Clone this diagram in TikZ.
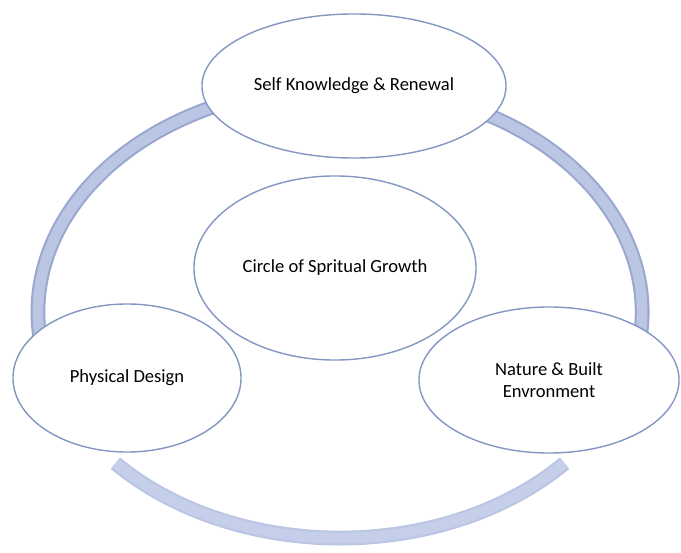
\documentclass[tikz,border=0pt]{standalone}
\usepackage{fontspec}
\setmainfont{Carlito}
\usetikzlibrary{shapes.geometric}
\definecolor{ringedge}{HTML}{9AA8CF}
\definecolor{ringfill}{HTML}{BAC6E4}
\definecolor{ringlow}{HTML}{C6CFEA}
\definecolor{ovaledge}{HTML}{8497C2}
\tikzset{
  oval/.style={ellipse,draw=ovaledge,line width=1pt,fill=white,inner sep=0pt,
    align=center,font=\fontsize{13.2}{16}\selectfont},
  ringouter/.style={draw=ringedge,line width=10.5pt,line cap=butt},
  ringinner/.style={draw=ringfill,line width=7.5pt,line cap=butt},
  ringshadow/.style={draw=black!15,line width=10pt,line cap=butt}
}
\begin{document}
\begin{tikzpicture}[x=0.025cm,y=0.025cm]
\useasboundingbox (0,0) rectangle (681,552);
\coordinate (ringc) at (340,240);
\draw[ringouter] (ringc) ++(-20:7.55cm and 5.65cm) arc[start angle=-20,end angle=200,x radius=7.55cm,y radius=5.65cm];
\draw[ringinner] (ringc) ++(-20:7.55cm and 5.65cm) arc[start angle=-20,end angle=200,x radius=7.55cm,y radius=5.65cm];
\draw[ringshadow,xshift=2,yshift=-4] (ringc) ++(222:7.55cm and 5.65cm) arc[start angle=222,end angle=318,x radius=7.55cm,y radius=5.65cm];
\draw[ringouter,draw=ringfill] (ringc) ++(222:7.55cm and 5.65cm) arc[start angle=222,end angle=318,x radius=7.55cm,y radius=5.65cm];
\draw[ringinner,draw=ringlow] (ringc) ++(222:7.55cm and 5.65cm) arc[start angle=222,end angle=318,x radius=7.55cm,y radius=5.65cm];
\node[oval,minimum width=7.6cm,minimum height=3.6cm] (renewal) at (354,466) {Self Knowledge \& Renewal};
\node[oval,minimum width=7.05cm,minimum height=4.6cm] (growth) at (335,284) {Circle of Spritual Growth};
\node[oval,minimum width=5.7cm,minimum height=3.7cm] (design) at (127,174) {Physical Design};
\node[oval,minimum width=6.5cm,minimum height=3.65cm] (nature) at (549,172) {Nature \& Built\\Envronment};
\end{tikzpicture}
\end{document}
